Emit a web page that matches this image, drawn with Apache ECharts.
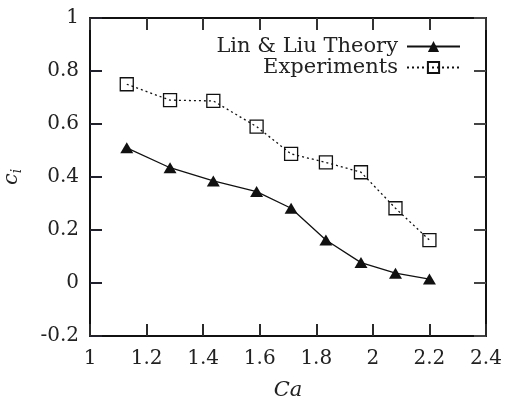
<!DOCTYPE html>
<html>
<head>
<meta charset="utf-8">
<script src="https://cdn.jsdelivr.net/npm/echarts@6/dist/echarts.min.js"></script>
<style>html,body{margin:0;padding:0;background:#fff}#c{width:512px;height:398px}</style>
</head>
<body>
<div id="c"></div>
<script>
const ca = [1.13, 1.283, 1.436, 1.589, 1.711, 1.834, 1.958, 2.08, 2.2];
const theory = [0.51, 0.435, 0.385, 0.345, 0.282, 0.162, 0.077, 0.037, 0.015];
const experiments = [0.75, 0.69, 0.687, 0.59, 0.487, 0.455, 0.418, 0.282, 0.162];
const seriesNames = ['Lin & Liu Theory', 'Experiments'];

const FONT = 'DejaVu Serif';
const chart = echarts.init(document.getElementById('c'));
const pair = (ys) => ca.map((x, i) => [x, ys[i]]);
const frameLine = () => ({ show: true, onZero: false, lineStyle: { color: '#111', width: 2 } });
const tick = (c) => ({ show: true, inside: true, length: 12, lineStyle: { color: c, width: 2 } });
const labelStyle = (m) => ({ margin: m, color: '#222', fontFamily: FONT, fontSize: 20 });

chart.setOption({
  animation: false,
  grid: { left: 90, right: 26, top: 18, bottom: 62, outerBoundsMode: 'none' },
  legend: {
    orient: 'vertical', right: 46, top: 31, align: 'right',
    itemWidth: 53, itemHeight: 14, itemGap: 0,
    textStyle: { fontFamily: FONT, fontSize: 21, lineHeight: 20, color: '#222', padding: [0, 4, 0, 0] },
    data: seriesNames
  },
  xAxis: [{
    type: 'value', min: 1, max: 2.4, interval: 0.2, position: 'bottom',
    axisLine: frameLine(), axisTick: tick('#2a2a2a'), splitLine: { show: false },
    axisLabel: labelStyle(13),
    name: 'Ca', nameLocation: 'middle', nameGap: 44,
    nameTextStyle: { fontFamily: FONT, fontStyle: 'italic', fontSize: 21, color: '#222' }
  }, {
    type: 'value', min: 1, max: 2.4, interval: 0.2, position: 'top',
    axisLine: frameLine(), axisTick: tick('#333333'), splitLine: { show: false },
    axisLabel: { show: true, color: 'rgba(0,0,0,0)' }
  }],
  yAxis: [{
    type: 'value', min: -0.2, max: 1, interval: 0.2, position: 'left',
    axisLine: frameLine(), axisTick: tick('#202030'), splitLine: { show: false },
    axisLabel: labelStyle(11),
    name: '{c|c}{i|i}', nameLocation: 'middle', nameGap: 66, nameRotate: 90,
    nameTextStyle: {
      rich: {
        c: { fontFamily: FONT, fontStyle: 'italic', fontSize: 21, color: '#222' },
        i: { fontFamily: FONT, fontStyle: 'italic', fontSize: 14, color: '#222', padding: [10, 0, 0, 0] }
      }
    }
  }, {
    type: 'value', min: -0.2, max: 1, interval: 0.2, position: 'right',
    axisLine: frameLine(), axisTick: tick('#444444'), splitLine: { show: false },
    axisLabel: { show: false }
  }],
  series: [{
    name: seriesNames[0], type: 'line', data: pair(theory),
    symbol: 'triangle', symbolSize: [13, 11],
    lineStyle: { color: '#111', width: 1.3, type: 'solid' },
    itemStyle: { color: '#111' }
  }, {
    name: seriesNames[1], type: 'line', data: pair(experiments),
    symbol: 'rect', symbolSize: 13,
    lineStyle: { color: '#111', width: 1.3, type: [2, 3] },
    itemStyle: { color: 'rgba(255,255,255,0)', borderColor: '#111', borderWidth: 1.3 }
  }]
});
</script>
</body>
</html>
